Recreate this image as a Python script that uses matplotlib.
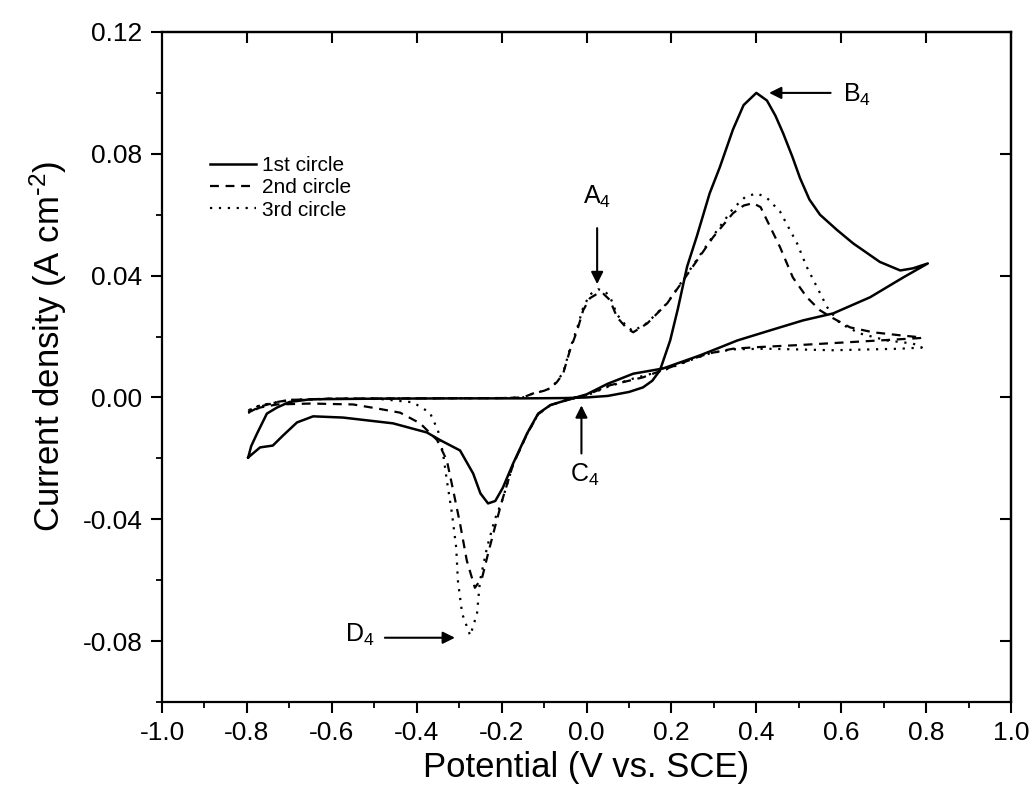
import numpy as np
import matplotlib
matplotlib.use('Agg')
import matplotlib.pyplot as plt
from matplotlib.ticker import FormatStrFormatter, MultipleLocator, FixedLocator

plt.rcParams['font.family'] = ['Liberation Sans', 'DejaVu Sans']
plt.rcParams['mathtext.default'] = 'regular'
plt.rcParams['axes.unicode_minus'] = False

# 1st circle (solid) - forward then reverse scan
x1 = [-0.797, -0.790, -0.776, -0.753, -0.729, -0.700, -0.650, -0.500, -0.300, -0.150, -0.050,
      0.000, 0.050, 0.100, 0.133, 0.155, 0.173, 0.197, 0.215, 0.237, 0.260, 0.290, 0.314, 0.345,
      0.370, 0.400, 0.425, 0.445, 0.463, 0.485, 0.503, 0.525, 0.550, 0.590, 0.628, 0.691, 0.739, 0.769, 0.804,
      0.746, 0.668, 0.581, 0.510, 0.432, 0.355, 0.314, 0.267, 0.180, 0.110, 0.050, 0.000, -0.050,
      -0.085, -0.114, -0.140, -0.173, -0.197, -0.215, -0.232, -0.250, -0.267, -0.298, -0.345,
      -0.376, -0.456, -0.574, -0.644, -0.682, -0.715, -0.739, -0.769, -0.797]
y1 = [-0.0197, -0.0160, -0.0118, -0.0053, -0.0033, -0.0015, -0.0006, -0.0004, -0.0003, -0.0003, -0.0002,
      0.0000, 0.0005, 0.0018, 0.0033, 0.0055, 0.0089, 0.0187, 0.0290, 0.0430, 0.0530, 0.0670, 0.0756, 0.0880,
      0.0960, 0.1000, 0.0975, 0.0925, 0.0868, 0.0790, 0.0720, 0.0650, 0.0600, 0.0550, 0.0506, 0.0445, 0.0417,
      0.0424, 0.0440,
      0.0394, 0.0329, 0.0276, 0.0253, 0.0220, 0.0187, 0.0164, 0.0138, 0.0095, 0.0078, 0.0045, 0.0010, -0.0010,
      -0.0025, -0.0053, -0.0118, -0.0217, -0.0296, -0.0340, -0.0348, -0.0315, -0.0250, -0.0174, -0.0140,
      -0.0115, -0.0085, -0.0066, -0.0062, -0.0082, -0.0125, -0.0158, -0.0164, -0.0197]

# 2nd circle (dashed)
x2 = [-0.797, -0.769, -0.729, -0.700, -0.600, -0.400, -0.200, -0.150, -0.126, -0.100, -0.086, -0.070,
      -0.055, -0.039, -0.022, -0.008, 0.008, 0.027, 0.040, 0.055, 0.072, 0.095, 0.110, 0.143, 0.190,
      0.244, 0.298, 0.345, 0.370, 0.392, 0.410, 0.425, 0.456, 0.486, 0.519, 0.550, 0.581, 0.621, 0.675,
      0.739, 0.790,
      0.786, 0.700, 0.600, 0.500, 0.400, 0.345, 0.290, 0.267, 0.180, 0.133, 0.055, 0.000, -0.050, -0.085,
      -0.114, -0.140, -0.173, -0.199, -0.216, -0.232, -0.246, -0.263, -0.282, -0.298, -0.314, -0.329,
      -0.352, -0.392, -0.439, -0.494, -0.550, -0.650, -0.729, -0.769, -0.797]
y2 = [-0.0050, -0.0030, -0.0015, -0.0008, -0.0004, -0.0003, -0.0002, 0.0000, 0.0013, 0.0022, 0.0030, 0.0050,
      0.0079, 0.0155, 0.0220, 0.0286, 0.0326, 0.0342, 0.0340, 0.0320, 0.0263, 0.0227, 0.0214, 0.0243, 0.0309,
      0.0417, 0.0526, 0.0605, 0.0630, 0.0638, 0.0625, 0.0582, 0.0493, 0.0394, 0.0329, 0.0286, 0.0260, 0.0230,
      0.0214, 0.0204, 0.0197,
      0.0195, 0.0188, 0.0180, 0.0172, 0.0165, 0.0160, 0.0145, 0.0135, 0.0090, 0.0066, 0.0040, 0.0008, -0.0010,
      -0.0025, -0.0055, -0.0120, -0.0220, -0.0339, -0.0427, -0.0513, -0.0592, -0.0625, -0.0536, -0.0414,
      -0.0306, -0.0207, -0.0140, -0.0085, -0.0050, -0.0036, -0.0023, -0.0020, -0.0023, -0.0033, -0.0050]

# 3rd circle (dotted)
x3 = [-0.797, -0.769, -0.729, -0.700, -0.600, -0.400, -0.200, -0.150, -0.126, -0.100, -0.086, -0.070,
      -0.055, -0.039, -0.022, -0.008, 0.008, 0.027, 0.040, 0.055, 0.072, 0.095, 0.110, 0.143, 0.190,
      0.244, 0.298, 0.345, 0.375, 0.402, 0.425, 0.456, 0.496, 0.519, 0.543, 0.567, 0.597, 0.644, 0.708,
      0.769, 0.790,
      0.739, 0.581, 0.425, 0.345, 0.291, 0.250, 0.180, 0.110, 0.050, 0.000, -0.050, -0.085, -0.114, -0.140,
      -0.173, -0.199, -0.216, -0.234, -0.251, -0.258, -0.274, -0.293, -0.303, -0.307, -0.317, -0.329,
      -0.338, -0.350, -0.369, -0.409, -0.486, -0.600, -0.700, -0.729, -0.769, -0.797]
y3 = [-0.0043, -0.0026, -0.0016, -0.0008, -0.0004, -0.0003, -0.0002, 0.0000, 0.0013, 0.0022, 0.0030, 0.0052,
      0.0082, 0.0160, 0.0228, 0.0295, 0.0338, 0.0355, 0.0352, 0.0332, 0.0272, 0.0232, 0.0218, 0.0245, 0.0310,
      0.0420, 0.0530, 0.0620, 0.0660, 0.0670, 0.0655, 0.0610, 0.0506, 0.0428, 0.0362, 0.0296, 0.0243, 0.0210,
      0.0187, 0.0177, 0.0164,
      0.0160, 0.0155, 0.0160, 0.0158, 0.0145, 0.0125, 0.0088, 0.0062, 0.0035, 0.0006, -0.0010, -0.0025,
      -0.0055, -0.0120, -0.0220, -0.0340, -0.0400, -0.0490, -0.0602, -0.0710, -0.0782, -0.0710, -0.0602,
      -0.0493, -0.0381, -0.0273, -0.0184, -0.0108, -0.0050, -0.0016, -0.0005, -0.0004, -0.0010, -0.0016,
      -0.0026, -0.0043]

labels = ['1st circle', '2nd circle', '3rd circle']
xticks = [-1.0, -0.8, -0.6, -0.4, -0.2, 0.0, 0.2, 0.4, 0.6, 0.8, 1.0]
yticks = [-0.08, -0.04, 0.00, 0.04, 0.08, 0.12]

# peak markers: (label, text pos, arrow tail, arrow tip)
marks = [
    ('A$_4$', (0.025, 0.066), (0.025, 0.0556), (0.025, 0.0372)),
    ('B$_4$', (0.605, 0.0995), (0.575, 0.1000), (0.430, 0.1000)),
    ('C$_4$', (-0.005, -0.0255), (-0.012, -0.0184), (-0.012, -0.0026)),
    ('D$_4$', (-0.500, -0.0780), (-0.475, -0.0789), (-0.310, -0.0789)),
]


def main():
    fig = plt.figure(figsize=(10.36, 7.90), dpi=100)
    ax = fig.add_axes([0.1564, 0.1114, 0.8195, 0.8481])

    ax.plot(x1, y1, color='black', lw=1.8, ls='-', label=labels[0])
    ax.plot(x2, y2, color='black', lw=1.6, ls=(0, (4, 3)), label=labels[1])
    ax.plot(x3, y3, color='black', lw=1.6, ls=(0, (1, 3)), label=labels[2])

    for txt, tpos, tail, tip in marks:
        ax.annotate('', xy=tip, xytext=tail,
                    arrowprops=dict(arrowstyle='-|>', lw=1.5, color='black',
                                    mutation_scale=18, shrinkA=0, shrinkB=0))
        ha = 'center'
        if txt.startswith('B'):
            ha = 'left'
        if txt.startswith('D'):
            ha = 'right'
        ax.text(tpos[0], tpos[1], txt, ha=ha, va='center', fontsize=18)

    ax.set_xlim(-1.0, 1.0)
    ax.set_ylim(-0.10, 0.12)
    ax.set_xticks(xticks)
    ax.xaxis.set_minor_locator(MultipleLocator(0.1))
    ax.set_yticks(yticks)
    ax.yaxis.set_minor_locator(MultipleLocator(0.02))
    ax.xaxis.set_major_formatter(FormatStrFormatter('%.1f'))
    ax.yaxis.set_major_formatter(FormatStrFormatter('%.2f'))
    ax.tick_params(which='major', direction='out', length=8, width=1.5, labelsize=19, pad=6)
    ax.tick_params(which='minor', direction='out', length=4, width=1.3)

    top = ax.secondary_xaxis('top')
    top.xaxis.set_major_locator(FixedLocator(xticks[1:-1]))
    top.tick_params(direction='in', length=8, width=1.5, labeltop=False)
    right = ax.secondary_yaxis('right')
    right.yaxis.set_major_locator(FixedLocator(yticks[:-1]))
    right.tick_params(direction='in', length=8, width=1.5, labelright=False)

    for s in list(ax.spines.values()) + list(top.spines.values()) + list(right.spines.values()):
        s.set_linewidth(1.6)

    ax.set_xlabel('Potential (V vs. SCE)', fontsize=25, labelpad=4)
    ax.set_ylabel('Current density (A cm$^{\\text{-}2}$)', fontsize=25)
    ax.yaxis.set_label_coords(-0.109, 0.531)

    ax.legend(loc='upper left', bbox_to_anchor=(0.044, 0.83), frameon=False, fontsize=15,
              handlelength=2.2, handletextpad=0.3, labelspacing=0.15, borderpad=0)

    plt.savefig('out.png', dpi=100)
    plt.close()


if __name__ == '__main__':
    main()
